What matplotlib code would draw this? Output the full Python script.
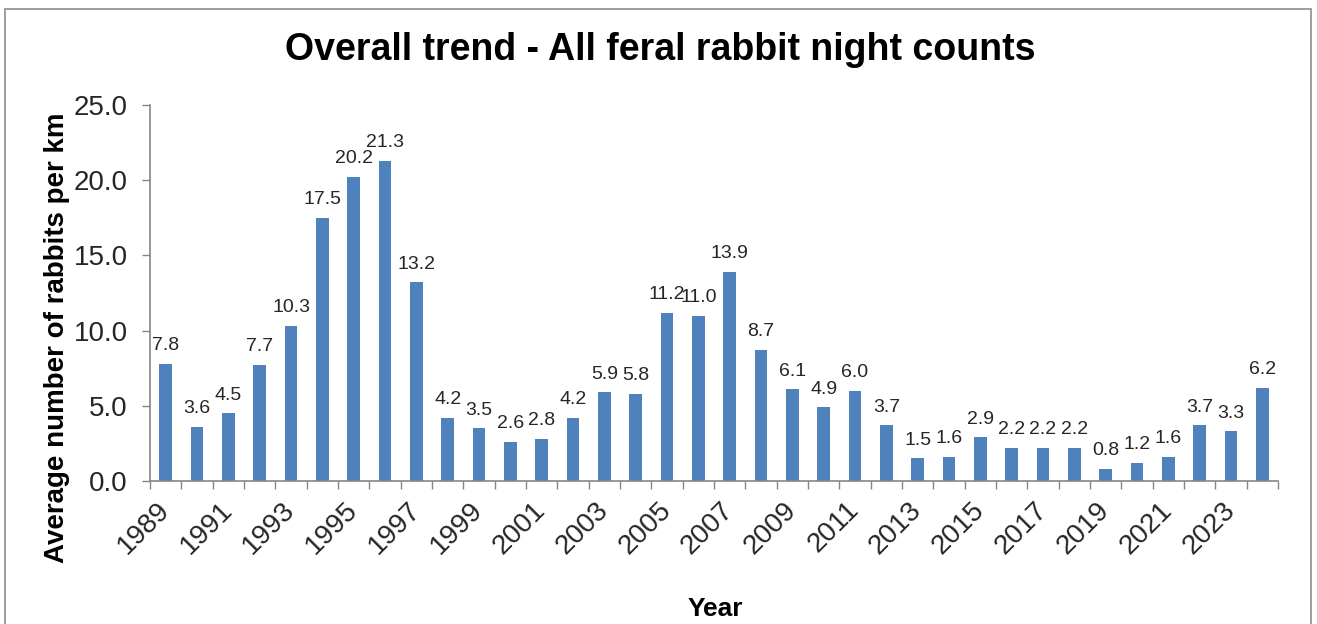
import matplotlib
matplotlib.use("Agg")
import matplotlib.pyplot as plt
from matplotlib.patches import Rectangle
from matplotlib.ticker import FixedLocator, FormatStrFormatter

years = list(range(1989, 2025))
values = [7.8, 3.6, 4.5, 7.7, 10.3, 17.5, 20.2, 21.3, 13.2, 4.2, 3.5, 2.6, 2.8, 4.2,
          5.9, 5.8, 11.2, 11.0, 13.9, 8.7, 6.1, 4.9, 6.0, 3.7, 1.5, 1.6, 2.9, 2.2,
          2.2, 2.2, 0.8, 1.2, 1.6, 3.7, 3.3, 6.2]
title = "Overall trend - All feral rabbit night counts"
ylabel = "Average number of rabbits per km"
xlabel = "Year"

plt.rcParams['font.family'] = ['Liberation Sans', 'DejaVu Sans']

W, H = 1317, 624
fig = plt.figure(figsize=(W / 100, H / 100), dpi=100)
fig.patches.append(Rectangle((4.5 / W, -0.1), (1311 - 4.5) / W, 1.1 - 9 / H,
                             transform=fig.transFigure, fill=False,
                             edgecolor='#8c8c8c', linewidth=1.2))

ax = fig.add_axes([150 / W, 1 - 481 / H, (1278 - 150) / W, (481 - 105) / H])
x = list(range(len(years)))
bars = ax.bar(x, values, width=0.4, color='#4F81BD')
for xi, v in zip(x, values):
    ax.annotate(f"{v:.1f}", (xi, v), xytext=(0, 7), textcoords='offset points',
                ha='center', va='bottom', fontsize=14, color='#262626')

ax.set_xlim(-0.5, len(years) - 0.5)
ax.set_ylim(0, 25)
ax.yaxis.set_major_locator(FixedLocator([0, 5, 10, 15, 20, 25]))
ax.yaxis.set_major_formatter(FormatStrFormatter('%.1f'))
ax.tick_params(axis='y', direction='out', length=6, width=1, color='#868686',
               labelsize=20, labelcolor='#262626', pad=10)

ax.set_xticks(x[::2])
ax.set_xticklabels([str(y) for y in years[::2]], rotation=45, ha='right',
                   va='center', rotation_mode='anchor')
ax.tick_params(axis='x', which='major', length=0, labelsize=20, labelcolor='#262626', pad=18)
ax.set_xticks([i - 0.5 for i in range(len(years) + 1)], minor=True)
ax.tick_params(axis='x', which='minor', direction='out', length=6, width=1, color='#868686')

for s in ['top', 'right']:
    ax.spines[s].set_visible(False)
for s in ['left', 'bottom']:
    ax.spines[s].set_color('#868686')
    ax.spines[s].set_linewidth(1.2)

fig.text(660 / W, 1 - 50 / H, title, ha='center', va='center', fontsize=27,
         fontweight='bold', color='black')
fig.text(57 / W, 1 - 338 / H, ylabel, ha='center', va='center', rotation=90,
         fontsize=20, fontweight='bold', color='black')
fig.text(715 / W, 1 - 609 / H, xlabel, ha='center', va='center', fontsize=19,
         fontweight='bold', color='black')

fig.savefig('out.png', dpi=100)
